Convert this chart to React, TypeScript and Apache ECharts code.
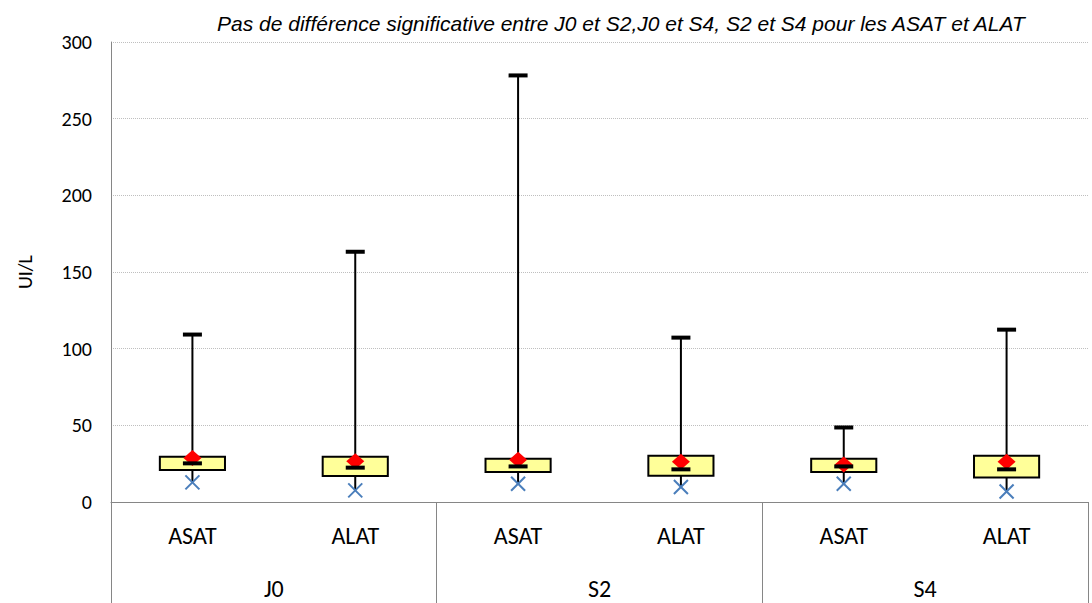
import React, { useEffect, useRef } from 'react';
import * as echarts from 'echarts';

const categories = ['ASAT', 'ALAT', 'ASAT', 'ALAT', 'ASAT', 'ALAT'];
const groups = ['J0', 'S2', 'S4'];
const minValues = [12.8, 7.6, 11.9, 9.8, 11.9, 6.9];
const q1Values = [20.9, 17.0, 19.6, 17.2, 19.6, 16.0];
const medianValues = [25.2, 22.4, 23.2, 21.3, 23.2, 21.3];
const q3Values = [29.5, 29.5, 28.2, 30.2, 28.2, 30.2];
const maxValues = [109.2, 163.2, 278.2, 107.2, 48.6, 112.4];
const meanValues = [28.7, 26.5, 27.6, 26.3, 24.5, 26.3];
const yTicks = { min: 0, max: 300, interval: 50 };
const title = 'Pas de différence significative entre J0 et S2,J0 et S4, S2 et S4 pour les ASAT et ALAT';
const yName = 'UI/L';

const labelFont = "Carlito, Calibri, 'Open Sans', sans-serif";
const titleFont = "'Liberation Sans', Arial, sans-serif";

export default function App() {
  const ref = useRef<HTMLDivElement>(null);
  useEffect(() => {
    const chart = echarts.init(ref.current as HTMLDivElement, null, { renderer: 'svg' });
    const data = categories.map((_, i) => [
      i, minValues[i], q1Values[i], medianValues[i], q3Values[i], maxValues[i], meanValues[i],
    ]);
    chart.setOption({
      animation: false,
      title: {
        text: title,
        left: 212,
        top: 8,
        textStyle: { fontFamily: titleFont, fontStyle: 'italic', fontWeight: 'normal', fontSize: 21, color: '#000' },
      },
      grid: { left: 111, right: 4, top: 42, bottom: 101, containLabel: false },
      xAxis: [
        {
          type: 'category',
          data: categories,
          position: 'bottom',
          axisLine: { show: true, lineStyle: { color: '#868686', width: 1 } },
          axisTick: { show: false },
          axisLabel: { color: '#000', fontSize: 24, fontFamily: labelFont, margin: 21 },
          splitLine: { show: false },
        },
        {
          type: 'category',
          data: groups,
          position: 'bottom',
          axisLine: { show: false },
          axisTick: { show: true, length: 101, lineStyle: { color: '#868686', width: 1 } },
          axisLabel: { color: '#000', fontSize: 24, fontFamily: labelFont, margin: 74 },
          splitLine: { show: false },
        },
      ],
      yAxis: {
        type: 'value',
        min: yTicks.min,
        max: yTicks.max,
        interval: yTicks.interval,
        name: yName,
        nameLocation: 'middle',
        nameRotate: 90,
        nameGap: 76,
        nameTextStyle: { color: '#000', fontSize: 20, fontFamily: labelFont },
        axisLine: { show: true, lineStyle: { color: '#868686', width: 1 } },
        axisTick: { show: false },
        axisLabel: { color: '#000', fontSize: 20, fontFamily: labelFont, margin: 19 },
        splitLine: { show: true, lineStyle: { color: '#BFBFBF', type: 'dotted', width: 1 } },
      },
      series: [
        {
          type: 'custom',
          xAxisIndex: 0,
          yAxisIndex: 0,
          data,
          encode: { x: 0, y: [1, 2, 3, 4, 5, 6] },
          renderItem: (params: any, api: any) => {
            const x = api.value(0);
            const pMin = api.coord([x, api.value(1)]);
            const pQ1 = api.coord([x, api.value(2)]);
            const pMed = api.coord([x, api.value(3)]);
            const pQ3 = api.coord([x, api.value(4)]);
            const pMax = api.coord([x, api.value(5)]);
            const pMean = api.coord([x, api.value(6)]);
            const bandW = api.size([1, 0])[0];
            const boxW = bandW * 0.4;
            const cx = pMed[0];
            const capW = 19;
            const xs = 7;
            return {
              type: 'group',
              children: [
                { type: 'line', shape: { x1: cx, y1: pMin[1], x2: cx, y2: pMax[1] }, style: { stroke: '#000', lineWidth: 2 } },
                { type: 'rect', shape: { x: cx - boxW / 2, y: pQ3[1], width: boxW, height: pQ1[1] - pQ3[1] }, style: { fill: '#FFFF99', stroke: '#000', lineWidth: 2 } },
                { type: 'polygon', shape: { points: [[cx, pMean[1] - 8], [cx + 9, pMean[1]], [cx, pMean[1] + 8], [cx - 9, pMean[1]]] }, style: { fill: '#FF0000' } },
                { type: 'rect', shape: { x: cx - capW / 2, y: pMed[1] - 2, width: capW, height: 4 }, style: { fill: '#000' } },
                { type: 'rect', shape: { x: cx - capW / 2, y: pMax[1] - 2, width: capW, height: 4 }, style: { fill: '#000' } },
                { type: 'line', shape: { x1: cx - xs, y1: pMin[1] - xs, x2: cx + xs, y2: pMin[1] + xs }, style: { stroke: '#4A7EBB', lineWidth: 2 } },
                { type: 'line', shape: { x1: cx - xs, y1: pMin[1] + xs, x2: cx + xs, y2: pMin[1] - xs }, style: { stroke: '#4A7EBB', lineWidth: 2 } },
              ],
            };
          },
        },
      ],
    });
    return () => chart.dispose();
  }, []);
  return <div ref={ref} style={{ position: 'absolute', left: 0, top: 0, width: 1092, height: 603 }} />;
}
